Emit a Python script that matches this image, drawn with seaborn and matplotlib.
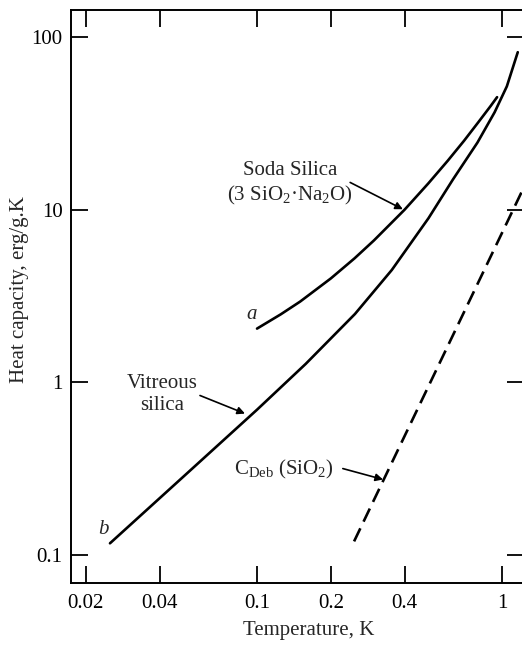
"""
Heat capacity of vitreous silica and soda silica glass at low temperature,
log-log, with the Debye T^3 contribution of crystalline SiO2 for reference.
"""

import matplotlib

matplotlib.use("Agg")
import matplotlib.pyplot as plt
import seaborn as sns

# Data (temperature in K, heat capacity in erg/g.K)
vitreous_T = [0.0251, 0.0501, 0.1, 0.158, 0.251, 0.355, 0.501, 0.631, 0.794, 0.933, 1.047, 1.16]
vitreous_C = [0.117, 0.285, 0.695, 1.28, 2.49, 4.48, 8.93, 15.0, 24.5, 36.7, 51.9, 81.8]

soda_T = [0.1, 0.125, 0.15, 0.2, 0.25, 0.3, 0.4, 0.5, 0.6, 0.7, 0.8, 0.9, 0.955]
soda_C = [2.05, 2.48, 2.94, 4.0, 5.23, 6.64, 10.0, 14.2, 19.2, 25.1, 32.1, 40.0, 44.9]

debye_T = [0.249, 1.21]
debye_C = [0.12, 12.9]

x_ticks = [0.02, 0.04, 0.1, 0.2, 0.4, 1]
x_ticklabels = ["0.02", "0.04", "0.1", "0.2", "0.4", "1"]
y_ticks = [0.1, 1, 10, 100]
y_ticklabels = ["0.1", "1", "10", "100"]

# Figure settings
FIG_DPI = 100
FONTSIZE = 15
LINE_W = 1.9

sns.set_style("ticks")
plt.rcParams["font.family"] = ["Liberation Serif", "DejaVu Serif"]
plt.rcParams["mathtext.fontset"] = "custom"
plt.rcParams["mathtext.rm"] = "Liberation Serif"
plt.rcParams["mathtext.it"] = "Liberation Serif:italic"


def main():
    fig = plt.figure(figsize=(5.22, 6.45), dpi=FIG_DPI)
    ax = fig.add_axes([71 / 522, 1 - 583 / 645, (524 - 71) / 522, (583 - 10) / 645])

    kw = dict(ax=ax, color="black", linewidth=LINE_W, estimator=None, sort=False, legend=False)
    sns.lineplot(x=vitreous_T, y=vitreous_C, **kw)
    sns.lineplot(x=soda_T, y=soda_C, **kw)
    line = sns.lineplot(x=debye_T, y=debye_C, **kw).lines[-1]
    line.set_dashes((5.5, 2.8))

    ax.set_xscale("log")
    ax.set_yscale("log")
    ax.set_xlim(0.0174, 1.23)
    ax.set_ylim(0.0689, 143.6)

    ax.set_xticks(x_ticks, x_ticklabels)
    ax.set_yticks(y_ticks, y_ticklabels)
    ax.minorticks_off()
    ax.tick_params(axis="both", which="major", direction="in", length=12, width=1.3,
                   top=True, right=True, labelsize=FONTSIZE, colors="black")
    ax.tick_params(axis="x", pad=8)
    ax.tick_params(axis="y", pad=6)
    for sp in ax.spines.values():
        sp.set_linewidth(1.4)
        sp.set_color("black")

    ax.set_xlabel("Temperature, K", fontsize=FONTSIZE)
    ax.set_ylabel("Heat capacity, erg/g.K", fontsize=FONTSIZE)
    ax.xaxis.set_label_coords(0.525, -0.067)
    ax.yaxis.set_label_coords(-0.093, 0.512)

    arrow = dict(arrowstyle="-|>", color="black", lw=1.2, mutation_scale=11,
                 shrinkA=0, shrinkB=0)

    # Soda silica label and arrow
    ax.text(0.136, 14.1, "Soda Silica\n(3 SiO$_2$\u00b7Na$_2$O)", fontsize=FONTSIZE,
            ha="center", va="center", multialignment="center", linespacing=1.25)
    ax.annotate("", xy=(0.394, 10.07), xytext=(0.24, 14.4), arrowprops=arrow)

    # Vitreous silica label and arrow
    ax.text(0.041, 0.85, "Vitreous\nsilica", fontsize=FONTSIZE, ha="center",
            va="center", multialignment="center", linespacing=1.25)
    ax.annotate("", xy=(0.0893, 0.66), xytext=(0.0585, 0.84), arrowprops=arrow)

    # Debye line label and arrow
    ax.text(0.129, 0.314, "C$_{\\mathrm{Deb}}$ (SiO$_2$)", fontsize=FONTSIZE,
            ha="center", va="center")
    ax.annotate("", xy=(0.327, 0.274), xytext=(0.224, 0.317), arrowprops=arrow)

    # Curve end labels
    ax.text(0.095, 2.48, "a", fontsize=FONTSIZE, style="italic", ha="center", va="center")
    ax.text(0.0235, 0.14, "b", fontsize=FONTSIZE, style="italic", ha="center", va="center")

    fig.savefig("out.png", dpi=FIG_DPI)
    plt.close(fig)


if __name__ == "__main__":
    main()
